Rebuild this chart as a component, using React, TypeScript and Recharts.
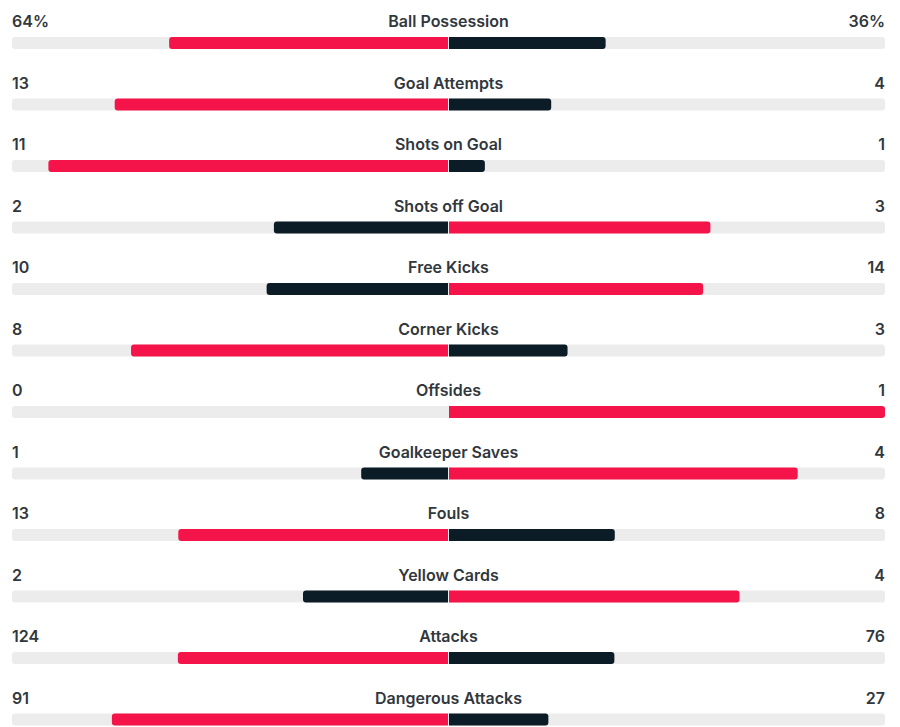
import { BarChart, Bar, XAxis, YAxis, LabelList } from 'recharts';

const statNames = [
  'Ball Possession', 'Goal Attempts', 'Shots on Goal', 'Shots off Goal', 'Free Kicks', 'Corner Kicks',
  'Offsides', 'Goalkeeper Saves', 'Fouls', 'Yellow Cards', 'Attacks', 'Dangerous Attacks',
];
const homeValues = [64, 13, 11, 2, 10, 8, 0, 1, 13, 2, 124, 91];
const awayValues = [36, 4, 1, 3, 14, 3, 1, 4, 8, 4, 76, 27];
const percentStats = ['Ball Possession'];

const RED = '#f5144a';
const DARK = '#0c1c26';
const TRACK = '#ececec';

const rows = statNames.map((name, i) => {
  const h = homeValues[i], a = awayValues[i];
  const total = h + a || 1;
  return {
    name,
    track: [-1, 1],
    home: [-h / total, 0],
    away: [0, a / total],
    homeFill: h > a ? RED : DARK,
    awayFill: a > h ? RED : DARK,
  };
});

const fmt = (name: string, v: number) => (percentStats.includes(name) ? `${v}%` : `${v}`);

const RowText = (props: any) => {
  const { x, y, width, index } = props;
  const r = rows[index];
  const by = y - 10;
  const style = { fontFamily: 'Inter, "Noto Sans", sans-serif', fontSize: 16, fontWeight: 600, fill: '#31373d' };
  return (
    <g>
      <text x={x} y={by} textAnchor="start" style={style}>{fmt(r.name, homeValues[index])}</text>
      <text x={x + width / 2} y={by} textAnchor="middle" style={style}>{r.name}</text>
      <text x={x + width} y={by} textAnchor="end" style={style}>{fmt(r.name, awayValues[index])}</text>
    </g>
  );
};

export default function App() {
  return (
    <div style={{ width: 892, height: 719, overflow: 'hidden' }}>
      <BarChart
        width={892}
        height={742}
        data={rows}
        layout="vertical"
        margin={{ top: 4, right: 15, bottom: 0, left: 4 }}
      >
        <XAxis type="number" domain={[-1, 1]} hide />
        <YAxis yAxisId="t" type="category" dataKey="name" hide />
        <YAxis yAxisId="h" type="category" dataKey="name" hide />
        <YAxis yAxisId="a" type="category" dataKey="name" hide />
        <Bar yAxisId="t" dataKey="track" fill={TRACK} barSize={12} radius={3} isAnimationActive={false}>
          <LabelList dataKey="name" content={RowText} />
        </Bar>
        <Bar
          yAxisId="h"
          dataKey="home"
          barSize={12}
          isAnimationActive={false}
          shape={(p: any) => {
            const { x, y, width, height, payload } = p;
            if (!width) return <g />;
            const r = 3;
            const w = width - 0.5;
            return (
              <path
                d={`M${x + r},${y} H${x + w} V${y + height} H${x + r} A${r},${r} 0 0 1 ${x},${y + height - r} V${y + r} A${r},${r} 0 0 1 ${x + r},${y} Z`}
                fill={payload.homeFill}
              />
            );
          }}
        />
        <Bar
          yAxisId="a"
          dataKey="away"
          barSize={12}
          isAnimationActive={false}
          shape={(p: any) => {
            const { x, y, width, height, payload } = p;
            if (!width) return <g />;
            const r = 3;
            const x0 = x + 0.5;
            const x1 = x + width;
            return (
              <path
                d={`M${x0},${y} H${x1 - r} A${r},${r} 0 0 1 ${x1},${y + r} V${y + height - r} A${r},${r} 0 0 1 ${x1 - r},${y + height} H${x0} Z`}
                fill={payload.awayFill}
              />
            );
          }}
        />
      </BarChart>
    </div>
  );
}
